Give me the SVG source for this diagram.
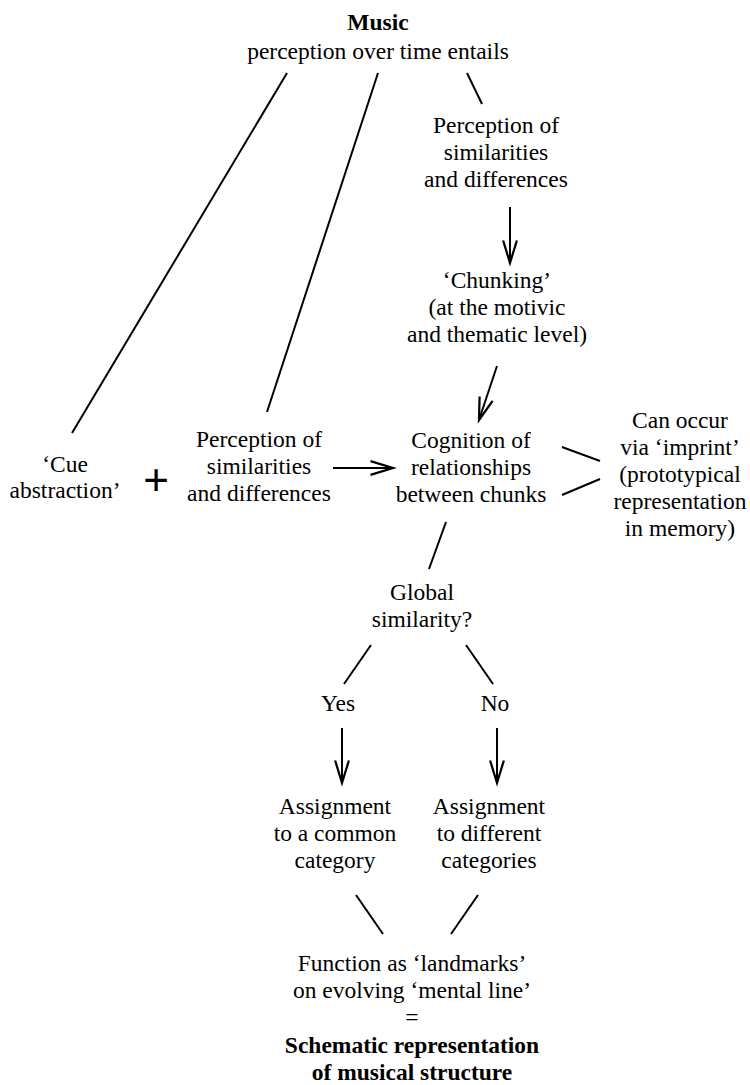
<svg xmlns="http://www.w3.org/2000/svg" width="750" height="1085" viewBox="0 0 750 1085">
<defs>
<style>
text{font-family:"Liberation Serif","Times New Roman",serif;font-size:23.5px;fill:#000;text-anchor:middle}
.b{font-weight:bold}
.plus{font-family:"Liberation Sans",Arial,sans-serif;font-size:44px}
.c line{stroke:#000;stroke-width:2;fill:none}
.a{marker-end:url(#ah)}
</style>
<marker id="ah" markerUnits="userSpaceOnUse" markerWidth="30" markerHeight="30" viewBox="-20 -10 24 20" refX="0" refY="0" orient="auto">
<path d="M-18,-5.5 L0,0 L-18,5.5" fill="none" stroke="#000" stroke-width="1.8"/>
</marker>
</defs>
<rect width="750" height="1085" fill="#fff"/>
<g id="connectors" class="c">
<line x1="287" y1="73" x2="72" y2="433"/>
<line x1="378" y1="73" x2="267" y2="412"/>
<line x1="467" y1="73" x2="482" y2="104"/>
<line class="a" x1="510" y1="207" x2="510" y2="263"/>
<line class="a" x1="497" y1="366" x2="479" y2="420"/>
<line class="a" x1="333" y1="468" x2="393" y2="468"/>
<line x1="562" y1="447" x2="600" y2="461"/>
<line x1="562" y1="495" x2="600" y2="479"/>
<line x1="446" y1="522" x2="429" y2="569"/>
<line x1="371" y1="645" x2="344" y2="684"/>
<line x1="466" y1="645" x2="493" y2="684"/>
<line class="a" x1="342" y1="728" x2="342" y2="783"/>
<line class="a" x1="497" y1="728" x2="497" y2="783"/>
<line x1="356" y1="895" x2="383" y2="934"/>
<line x1="478" y1="895" x2="451" y2="934"/>
</g>
<g id="music">
<text class="b" x="378" y="30">Music</text>
<text x="378" y="59">perception over time entails</text>
</g>
<g id="perception-top">
<text x="496" y="133">Perception of</text>
<text x="496" y="160">similarities</text>
<text x="496" y="187">and differences</text>
</g>
<g id="chunking">
<text x="497" y="288">‘Chunking’</text>
<text x="497" y="315">(at the motivic</text>
<text x="497" y="342">and thematic level)</text>
</g>
<g id="cue">
<text x="65" y="472">‘Cue</text>
<text x="65" y="498">abstraction’</text>
</g>
<g id="plus">
<text class="plus" x="156" y="495">+</text>
</g>
<g id="perception-left">
<text x="259" y="447">Perception of</text>
<text x="259" y="474">similarities</text>
<text x="259" y="501">and differences</text>
</g>
<g id="cognition">
<text x="471" y="448">Cognition of</text>
<text x="471" y="475">relationships</text>
<text x="471" y="502">between chunks</text>
</g>
<g id="imprint">
<text x="680" y="428">Can occur</text>
<text x="680" y="455">via ‘imprint’</text>
<text x="680" y="482">(prototypical</text>
<text x="680" y="509">representation</text>
<text x="680" y="536">in memory)</text>
</g>
<g id="global">
<text x="422" y="600">Global</text>
<text x="422" y="627">similarity?</text>
</g>
<g id="yes"><text x="338" y="711">Yes</text></g>
<g id="no"><text x="495" y="711">No</text></g>
<g id="common">
<text x="335" y="814">Assignment</text>
<text x="335" y="841">to a common</text>
<text x="335" y="868">category</text>
</g>
<g id="different">
<text x="489" y="814">Assignment</text>
<text x="489" y="841">to different</text>
<text x="489" y="868">categories</text>
</g>
<g id="landmarks">
<text x="412" y="971">Function as ‘landmarks’</text>
<text x="412" y="998">on evolving ‘mental line’</text>
<text x="412" y="1025">=</text>
<text class="b" x="412" y="1053">Schematic representation</text>
<text class="b" x="412" y="1080">of musical structure</text>
</g>
</svg>
